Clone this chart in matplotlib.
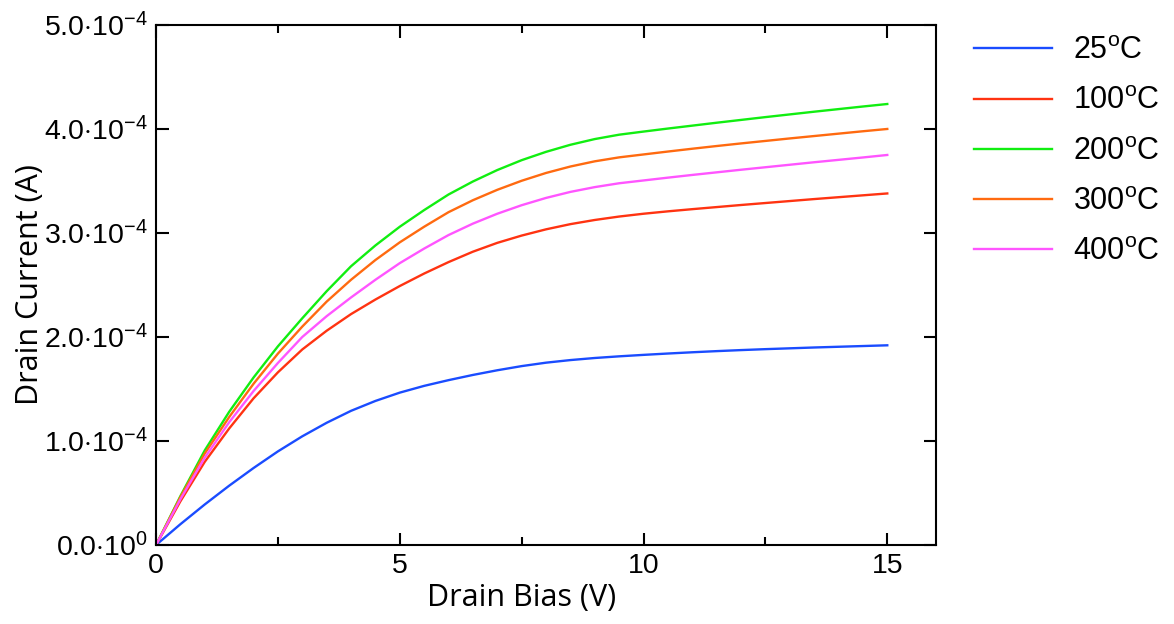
import numpy as np
import matplotlib
matplotlib.use('Agg')
import matplotlib.pyplot as plt
from matplotlib.ticker import FixedLocator, FixedFormatter, MultipleLocator

plt.rcParams['font.family'] = ['Liberation Sans', 'DejaVu Sans']
plt.rcParams['mathtext.fontset'] = 'custom'
plt.rcParams['mathtext.rm'] = 'Liberation Sans'
plt.rcParams['mathtext.it'] = 'Liberation Sans:italic'

# drain bias (V)
bias = [0, 0.5, 1, 1.5, 2, 2.5, 3, 3.5, 4, 4.5, 5, 5.5, 6, 6.5, 7, 7.5,
        8, 8.5, 9, 9.5, 10, 10.5, 11, 11.5, 12, 12.5, 13, 13.5, 14, 14.5, 15]

# drain current (x1e-4 A) per temperature
i_25 = [0, 0.20, 0.39, 0.57, 0.74, 0.90, 1.045, 1.175, 1.29, 1.385, 1.465,
        1.53, 1.585, 1.635, 1.68, 1.72, 1.753, 1.778, 1.798, 1.814, 1.828,
        1.841, 1.853, 1.864, 1.874, 1.883, 1.891, 1.899, 1.906, 1.913, 1.92]
i_100 = [0, 0.42, 0.80, 1.12, 1.41, 1.66, 1.88, 2.06, 2.22, 2.36, 2.49,
         2.61, 2.72, 2.82, 2.905, 2.975, 3.035, 3.085, 3.125, 3.158, 3.185,
         3.208, 3.229, 3.249, 3.269, 3.288, 3.307, 3.326, 3.344, 3.362, 3.38]
i_200 = [0, 0.47, 0.91, 1.28, 1.61, 1.91, 2.18, 2.44, 2.68, 2.88, 3.06,
         3.22, 3.37, 3.495, 3.605, 3.70, 3.78, 3.848, 3.903, 3.945, 3.975,
         4.004, 4.032, 4.06, 4.087, 4.114, 4.14, 4.166, 4.191, 4.216, 4.24]
i_300 = [0, 0.46, 0.88, 1.23, 1.55, 1.84, 2.10, 2.34, 2.55, 2.74, 2.91,
         3.06, 3.20, 3.315, 3.415, 3.502, 3.577, 3.639, 3.689, 3.727, 3.755,
         3.783, 3.81, 3.836, 3.861, 3.885, 3.909, 3.932, 3.955, 3.978, 4.00]
i_400 = [0, 0.44, 0.84, 1.18, 1.48, 1.75, 2.00, 2.20, 2.38, 2.55, 2.71,
         2.85, 2.98, 3.09, 3.185, 3.267, 3.337, 3.395, 3.441, 3.478, 3.505,
         3.532, 3.558, 3.583, 3.608, 3.632, 3.656, 3.68, 3.703, 3.726, 3.75]

labels = ['25$^{\\mathrm{o}}$C', '100$^{\\mathrm{o}}$C', '200$^{\\mathrm{o}}$C',
          '300$^{\\mathrm{o}}$C', '400$^{\\mathrm{o}}$C']
colors = ['#1a4cff', '#ff3311', '#11ee11', '#ff6a10', '#ff55ff']

y_ticks = [0, 1e-4, 2e-4, 3e-4, 4e-4, 5e-4]
y_tick_labels = ['0.0$\\cdot$10$^{0}$', '1.0$\\cdot$10$^{-4}$', '2.0$\\cdot$10$^{-4}$',
                 '3.0$\\cdot$10$^{-4}$', '4.0$\\cdot$10$^{-4}$', '5.0$\\cdot$10$^{-4}$']
x_ticks = [0, 5, 10, 15]
x_tick_labels = ['0', '5', '10', '15']

fig = plt.figure(figsize=(11.74, 6.24), dpi=100)
ax = fig.add_axes([0.1329, 0.1266, 0.6644, 0.8334])

x = np.array(bias)
for ys, c, lab in zip([i_25, i_100, i_200, i_300, i_400], colors, labels):
    ax.plot(x, np.array(ys) * 1e-4, color=c, lw=1.7, label=lab)

ax.set_xlim(0, 16)
ax.set_ylim(0, 5e-4)
ax.xaxis.set_major_locator(FixedLocator(x_ticks))
ax.xaxis.set_major_formatter(FixedFormatter(x_tick_labels))
ax.xaxis.set_minor_locator(MultipleLocator(2.5))
ax.yaxis.set_major_locator(FixedLocator(y_ticks))
ax.yaxis.set_major_formatter(FixedFormatter(y_tick_labels))

ax.tick_params(which='both', direction='in', top=True, right=True, width=1.5,
               labelsize=20.5, pad=6)
ax.tick_params(which='major', length=9)
ax.tick_params(which='minor', length=5.5)
for sp in ax.spines.values():
    sp.set_linewidth(1.5)

ax.set_xlabel('Drain Bias (V)', family=['Open Sans', 'DejaVu Sans'], fontsize=22)
ax.set_ylabel('Drain Current (A)', family=['Open Sans', 'DejaVu Sans'], fontsize=22)
ax.xaxis.set_label_coords(0.468, -0.102)
ax.xaxis.label.set_va('center')
ax.yaxis.set_label_coords(-0.142, 0.5)

fig.legend(loc='upper left', bbox_to_anchor=(0.8296, 0.942), frameon=False,
           fontsize=22, handlelength=2.55, handletextpad=0.7, labelspacing=0.66,
           borderpad=0, borderaxespad=0)

fig.savefig('out.png', dpi=100)
